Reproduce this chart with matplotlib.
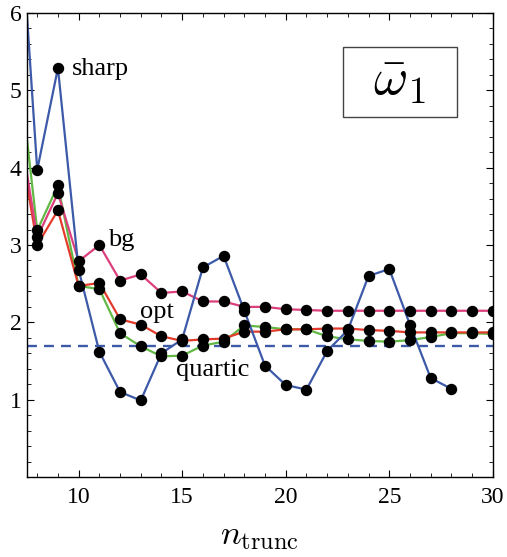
import numpy as np
import matplotlib
matplotlib.use('Agg')
import matplotlib.pyplot as plt
from matplotlib.patches import Rectangle
from matplotlib.ticker import MultipleLocator

plt.rcParams['font.family'] = 'Liberation Serif'
plt.rcParams['mathtext.fontset'] = 'cm'

n = np.arange(7, 31)

# values per truncation order (n=7 lies just left of the visible range)
sharp = [8.0, 3.97, 5.29, 2.68, 1.62, 1.10, 0.99, 1.60, 1.78, 2.71, 2.86, 2.15,
         1.44, 1.19, 1.13, 1.63, 1.90, 2.60, 2.69, 1.97, 1.28, 1.14]
bg = [4.76, 3.10, 3.67, 2.79, 3.00, 2.54, 2.62, 2.38, 2.40, 2.27, 2.27, 2.20,
      2.20, 2.17, 2.16, 2.15, 2.15, 2.15, 2.15, 2.15, 2.15, 2.15, 2.15, 2.15]
opt = [4.60, 3.00, 3.45, 2.47, 2.51, 2.04, 1.97, 1.82, 1.76, 1.78, 1.79, 1.88,
       1.88, 1.91, 1.91, 1.92, 1.92, 1.90, 1.89, 1.87, 1.87, 1.87, 1.87, 1.87]
quartic = [5.57, 3.19, 3.77, 2.47, 2.43, 1.86, 1.69, 1.56, 1.57, 1.70, 1.75, 1.96,
           1.94, 1.91, 1.91, 1.82, 1.78, 1.76, 1.75, 1.77, 1.81, 1.86, 1.86, 1.85]
exact = 1.69

c_blue = '#3d5aa8'
c_pink = '#dc3f7c'
c_red = '#e23b2b'
c_green = '#62b845'

fig = plt.figure(figsize=(5.07, 5.57), dpi=100)
ax = fig.add_axes([0.053, 0.1436, 0.919, 0.833])

ms = 7.2
ax.plot(n, quartic, '-', color=c_green, lw=1.6, zorder=2)
ax.plot(n, opt, '-', color=c_red, lw=1.6, zorder=2.1)
ax.plot(n, bg, '-', color=c_pink, lw=1.6, zorder=2.2)
ax.plot(n[:len(sharp)], sharp, '-', color=c_blue, lw=1.6, zorder=2.3)
for ys in [quartic, opt, bg, sharp]:
    ax.plot(n[:len(ys)], ys, 'o', color='black', ms=ms, zorder=3)
ax.axhline(exact, color=c_blue, lw=1.7, ls=(0, (4.2, 3)), zorder=1)

ax.text(9.65, 5.27, 'sharp', fontsize=19, va='center', ha='left')
ax.text(11.4, 3.07, 'bg', fontsize=19, va='center', ha='left')
ax.text(12.95, 2.14, 'opt', fontsize=19, va='center', ha='left')
ax.text(14.7, 1.38, 'quartic', fontsize=19, va='center', ha='left')

ax.add_patch(Rectangle((0.678, 0.776), 0.245, 0.151, transform=ax.transAxes,
                       fill=False, ec='#444444', lw=1.0))
ax.text(0.80, 0.852, r'$\bar{\omega}_1$', transform=ax.transAxes, fontsize=38,
        ha='center', va='center')

ax.set_xlim(7.5, 30)
ax.set_ylim(0, 6)
ax.xaxis.set_major_locator(MultipleLocator(5))
ax.xaxis.set_minor_locator(MultipleLocator(1))
ax.yaxis.set_major_locator(MultipleLocator(1))
ax.yaxis.set_minor_locator(MultipleLocator(0.2))
ax.set_yticks([1, 2, 3, 4, 5, 6])
ax.tick_params(which='both', direction='in', top=True, right=True, labelsize=17)
ax.tick_params(which='major', length=5, width=0.8)
ax.tick_params(which='minor', length=3, width=0.6)
ax.tick_params(axis='x', pad=7)
ax.tick_params(axis='y', pad=4)
for s in ax.spines.values():
    s.set_linewidth(1.0)
ax.set_xlabel(r'$n_{\rm trunc}$', fontsize=25, labelpad=8)

fig.savefig('out.png', dpi=100)
